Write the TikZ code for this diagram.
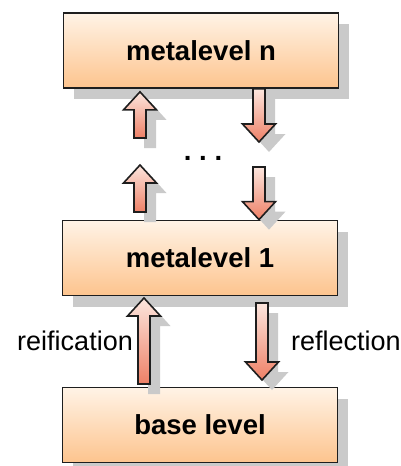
\documentclass[tikz,border=0pt]{standalone}
\usepackage{fontspec}
\setmainfont{Liberation Sans}
\usetikzlibrary{shadows,calc}
\definecolor{boxtop}{HTML}{FFF3E6}
\definecolor{boxbot}{HTML}{FDC48E}
\definecolor{arrtop}{HTML}{FCE6DE}
\definecolor{arrbot}{HTML}{EE8066}
\definecolor{shadowgray}{HTML}{CACACA}
\definecolor{edge}{HTML}{1E1E1E}
\tikzset{
  level/.style={draw=edge, line width=1.7pt, top color=boxtop, bottom color=boxbot,
    minimum width=275pt, minimum height=75pt, inner sep=0pt,
    font=\fontsize{27.5}{31}\selectfont\bfseries,
    drop shadow={shadow xshift=10pt, shadow yshift=-11pt, fill=shadowgray, opacity=1}},
  lbl/.style={font=\fontsize{27}{31}\selectfont, inner sep=0pt},
  arrbody/.style={draw=edge, line width=1.6pt, top color=arrtop, bottom color=arrbot, line join=miter},
  arrshadow/.style={fill=shadowgray},
}
% #1 tail, #2 tip, #3 shaft half width, #4 head half width, #5 dx, #6 dy
\newcommand\arrowshape[6]{%
  let \p1=(#1), \p2=(#2), \n1={(\y2>\y1)*2-1}, \p3=(\x1,{\y2-\n1*18pt}) in
  ({\x1-#3+#5},{\y1+#6}) -- ({\x1-#3+#5},{\y3+#6}) -- ({\x1-#4+#5},{\y3+#6}) --
  ({\x2+#5},{\y2+#6}) -- ({\x1+#4+#5},{\y3+#6}) -- ({\x1+#3+#5},{\y3+#6}) --
  ({\x1+#3+#5},{\y1+#6}) -- cycle}
\newcommand\blockarrow[2]{%
  \path[arrshadow] \arrowshape{#1}{#2}{6pt}{16.5pt}{10pt}{-10pt};
  \path[arrbody] \arrowshape{#1}{#2}{6pt}{16.5pt}{0pt}{0pt};}
\begin{document}
\begin{tikzpicture}[x=1pt,y=-1pt]
\useasboundingbox (0,0) rectangle (401,466);
\node[level] (mln) at (201,50.5) {metalevel n};
\node[level] (ml1) at (200,258) {metalevel 1};
\node[level] (base) at (200,425) {base level};
\node[font=\fontsize{27.5}{31}\selectfont\bfseries, inner sep=0pt] (dots) at (203,158) {.\hspace{0.28em}.\hspace{0.28em}.};
% coordinates for the block arrows
\coordinate (a1t) at (140,138);
\coordinate (a1h) at (mln.south -| a1t);
\coordinate (a1h) at ($(a1h)+(0,3)$);
\coordinate (a2t) at (140,212);
\coordinate (a2h) at (140,165);
\coordinate (b1h) at (259,142);
\coordinate (b1t) at (mln.south -| b1h);
\coordinate (b2t) at (259,167);
\coordinate (b2h) at (ml1.north -| b2t);
\coordinate (a3t) at (144,384);
\coordinate (a3h) at (144,298);
\coordinate (b3t) at (262,303);
\coordinate (b3h) at (262,380);
\blockarrow{a1t}{a1h}
\blockarrow{a2t}{a2h}
\blockarrow{b1t}{b1h}
\blockarrow{b2t}{b2h}
\blockarrow{a3t}{a3h}
\blockarrow{b3t}{b3h}
\node[lbl, anchor=east] (reif) at (133,341) {reification};
\node[lbl, anchor=west] (refl) at (291,341) {reflection};
\end{tikzpicture}
\end{document}
